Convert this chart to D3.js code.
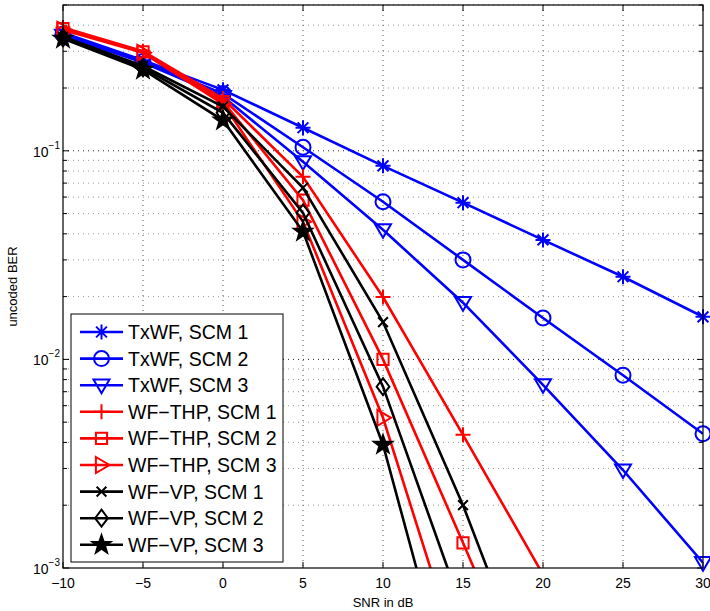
<!DOCTYPE html>
<html>
<head>
<meta charset="utf-8">
<script src="https://cdn.jsdelivr.net/npm/d3@7.9.0/dist/d3.min.js"></script>
<style>
  body { margin: 0; background: #fff; }
  svg { display: block; font-family: "Liberation Sans", Arial, sans-serif; }
</style>
</head>
<body>
<svg id="chart"></svg>
<script>
const width = 710;
const height = 611;

// SNR points (dB)
const snr = [-10, -5, 0, 5, 10, 15, 20, 25, 30];

// uncoded BER per scheme
const txwf1 = [0.368, 0.272, 0.196, 0.129, 0.0847, 0.0564, 0.0374, 0.0249, 0.016];
const txwf2 = [0.362, 0.268, 0.188, 0.104, 0.057, 0.030, 0.0158, 0.0084, 0.0044];
const txwf3 = [0.358, 0.265, 0.182, 0.0886, 0.0418, 0.0187, 0.00755, 0.00295, 0.00106];
const thp1 = [0.39, 0.30, 0.178, 0.075, 0.0199, 0.00435, 0.00093];
const thp2 = [0.385, 0.298, 0.172, 0.058, 0.0100, 0.00132, 0.00017];
const thp3 = [0.38, 0.295, 0.168, 0.0457, 0.00525, 0.00032];
const vp1 = [0.352, 0.255, 0.163, 0.0665, 0.0151, 0.0020, 0.0002];
const vp2 = [0.348, 0.25, 0.152, 0.0504, 0.0074, 0.00062];
const vp3 = [0.345, 0.245, 0.14, 0.041, 0.0039, 0.00015];

const seriesNames = ["TxWF, SCM 1", "TxWF, SCM 2", "TxWF, SCM 3",
  "WF\u2212THP, SCM 1", "WF\u2212THP, SCM 2", "WF\u2212THP, SCM 3",
  "WF\u2212VP, SCM 1", "WF\u2212VP, SCM 2", "WF\u2212VP, SCM 3"];
const seriesValues = [txwf1, txwf2, txwf3, thp1, thp2, thp3, vp1, vp2, vp3];
const seriesColors = ["#0000ff", "#0000ff", "#0000ff", "#ff0000", "#ff0000", "#ff0000", "#000", "#000", "#000"];
const seriesMarkers = ["asterisk", "circle", "triDown", "plus", "square", "triRight", "cross", "diamond", "star"];

const xTicks = [-10, -5, 0, 5, 10, 15, 20, 25, 30];
const yMajor = [1e-3, 1e-2, 1e-1];

const margin = { left: 63, right: 7, top: 5, bottom: 43 };

const svg = d3.select("#chart")
    .attr("width", width)
    .attr("height", height);

const x = d3.scaleLinear()
    .domain([-10, 30])
    .range([margin.left, width - margin.right]);

const y = d3.scaleLog()
    .domain([1e-3, 0.5])
    .range([height - margin.bottom, margin.top]);

const x0 = x.range()[0], x1 = x.range()[1];
const yb = y.range()[0], yt = y.range()[1];

svg.append("defs").append("clipPath").attr("id", "clip")
  .append("rect")
    .attr("x", x0).attr("y", yt)
    .attr("width", x1 - x0).attr("height", yb - yt);

// grid
const grid = svg.append("g");
const yMinor = y.ticks().filter(v => v > 1e-3 && v <= 0.5);
grid.selectAll(".ygrid")
    .data(yMinor)
    .enter().append("line")
    .attr("x1", x0).attr("x2", x1)
    .attr("y1", d => y(d)).attr("y2", d => y(d))
    .attr("stroke", d => yMajor.includes(d) ? "#222" : "#999")
    .attr("stroke-width", 1)
    .attr("stroke-dasharray", "1,4");
grid.selectAll(".xgrid")
    .data(xTicks.slice(1, -1))
    .enter().append("line")
    .attr("x1", d => x(d)).attr("x2", d => x(d))
    .attr("y1", yt).attr("y2", yb)
    .attr("stroke", "#555")
    .attr("stroke-width", 1)
    .attr("stroke-dasharray", "1,4");

// axes with inside ticks on all sides
const tickLen = 6;
const axisG = svg.append("g").attr("stroke", "#000").attr("stroke-width", 1);
xTicks.forEach(v => {
  axisG.append("line").attr("x1", x(v)).attr("x2", x(v)).attr("y1", yb).attr("y2", yb - tickLen);
  axisG.append("line").attr("x1", x(v)).attr("x2", x(v)).attr("y1", yt).attr("y2", yt + tickLen);
});
y.ticks().filter(v => v >= 1e-3 && v <= 0.5).forEach(v => {
  const len = yMajor.includes(v) ? tickLen : 4;
  axisG.append("line").attr("x1", x0).attr("x2", x0 + len).attr("y1", y(v)).attr("y2", y(v));
  axisG.append("line").attr("x1", x1).attr("x2", x1 - len).attr("y1", y(v)).attr("y2", y(v));
});

// x tick labels
svg.append("g").selectAll("text")
    .data(xTicks)
    .enter().append("text")
    .attr("x", d => x(d))
    .attr("y", yb + 20)
    .attr("text-anchor", "middle")
    .attr("font-size", 14)
    .text(d => d < 0 ? "\u2212" + Math.abs(d) : d);

// y tick labels 10^k
const yl = svg.append("g").selectAll("text")
    .data(yMajor)
    .enter().append("text")
    .attr("x", 60)
    .attr("y", d => y(d) + 6)
    .attr("text-anchor", "end")
    .attr("font-size", 14);
yl.append("tspan").text("10");
yl.append("tspan")
    .attr("dy", -8)
    .attr("font-size", 10)
    .text(d => "\u2212" + Math.abs(Math.round(Math.log10(d))));

// axis titles
svg.append("text")
    .attr("x", x(10))
    .attr("y", 607)
    .attr("text-anchor", "middle")
    .attr("font-size", 13)
    .text("SNR in dB");
svg.append("text")
    .attr("transform", `translate(17,${(yt + yb) / 2}) rotate(-90)`)
    .attr("text-anchor", "middle")
    .attr("font-size", 13)
    .text("uncoded BER");

// marker shapes
function markerPath(type, s) {
  const h = s / 2;
  switch (type) {
    case "asterisk": {
      const d = h * 0.72;
      return `M${-h},0L${h},0M0,${-h}L0,${h}M${-d},${-d}L${d},${d}M${-d},${d}L${d},${-d}`;
    }
    case "plus": return `M${-h},0L${h},0M0,${-h}L0,${h}`;
    case "cross": { const d = h * 0.75; return `M${-d},${-d}L${d},${d}M${-d},${d}L${d},${-d}`; }
    case "circle": return d3.symbol(d3.symbolCircle, Math.PI * h * h)();
    case "square": { const q = h * 0.8; return `M${-q},${-q}H${q}V${q}H${-q}Z`; }
    case "triDown": return `M${-h},${-h * 0.7}L${h},${-h * 0.7}L0,${h}Z`;
    case "triRight": return `M${-h * 0.7},${-h}L${h},0L${-h * 0.7},${h}Z`;
    case "diamond": return `M0,${-h}L${h * 0.75},0L0,${h}L${-h * 0.75},0Z`;
    case "star": {
      let p = "";
      for (let i = 0; i < 10; i++) {
        const r = i % 2 === 0 ? h * 1.05 : h * 0.42;
        const a = -Math.PI / 2 + i * Math.PI / 5;
        p += (i === 0 ? "M" : "L") + (r * Math.cos(a)).toFixed(2) + "," + (r * Math.sin(a)).toFixed(2);
      }
      return p + "Z";
    }
  }
}
const markerSize = { asterisk: 15, plus: 15, cross: 13, circle: 15, square: 14, triDown: 16, triRight: 16, diamond: 17, star: 18 };

const line = d3.line()
    .x(d => x(d[0]))
    .y(d => y(d[1]));

const plot = svg.append("g");
seriesValues.forEach((vals, i) => {
  const pts = vals.map((v, j) => [snr[j], v]);
  const g = plot.append("g");
  g.append("path")
      .datum(pts)
      .attr("clip-path", "url(#clip)")
      .attr("fill", "none")
      .attr("stroke", seriesColors[i])
      .attr("stroke-width", 2.6)
      .attr("d", line);
  const m = seriesMarkers[i];
  g.selectAll(".mk")
      .data(pts.filter(p => p[1] >= 1e-3))
      .enter().append("path")
      .attr("transform", p => `translate(${x(p[0])},${y(p[1])})`)
      .attr("d", markerPath(m, markerSize[m]))
      .attr("fill", m === "star" ? seriesColors[i] : "none")
      .attr("stroke", seriesColors[i])
      .attr("stroke-width", 2);
});

// frame
svg.append("rect")
    .attr("x", x0).attr("y", yt)
    .attr("width", x1 - x0).attr("height", yb - yt)
    .attr("fill", "none")
    .attr("stroke", "#000")
    .attr("stroke-width", 1.2);

// legend
const lg = svg.append("g");
lg.append("rect")
    .attr("x", 71).attr("y", 314)
    .attr("width", 212).attr("height", 248)
    .attr("fill", "#fff")
    .attr("stroke", "#000")
    .attr("stroke-width", 1);
seriesNames.forEach((name, i) => {
  const cy = 332 + i * 26.6;
  const m = seriesMarkers[i];
  lg.append("line")
      .attr("x1", 80).attr("x2", 123)
      .attr("y1", cy).attr("y2", cy)
      .attr("stroke", seriesColors[i])
      .attr("stroke-width", 2.6);
  lg.append("path")
      .attr("transform", `translate(101.5,${cy})`)
      .attr("d", markerPath(m, markerSize[m]))
      .attr("fill", m === "star" ? seriesColors[i] : "none")
      .attr("stroke", seriesColors[i])
      .attr("stroke-width", 2);
  lg.append("text")
      .attr("x", 128)
      .attr("y", cy + 7)
      .attr("font-size", 19.5)
      .text(name);
});
</script>
</body>
</html>
